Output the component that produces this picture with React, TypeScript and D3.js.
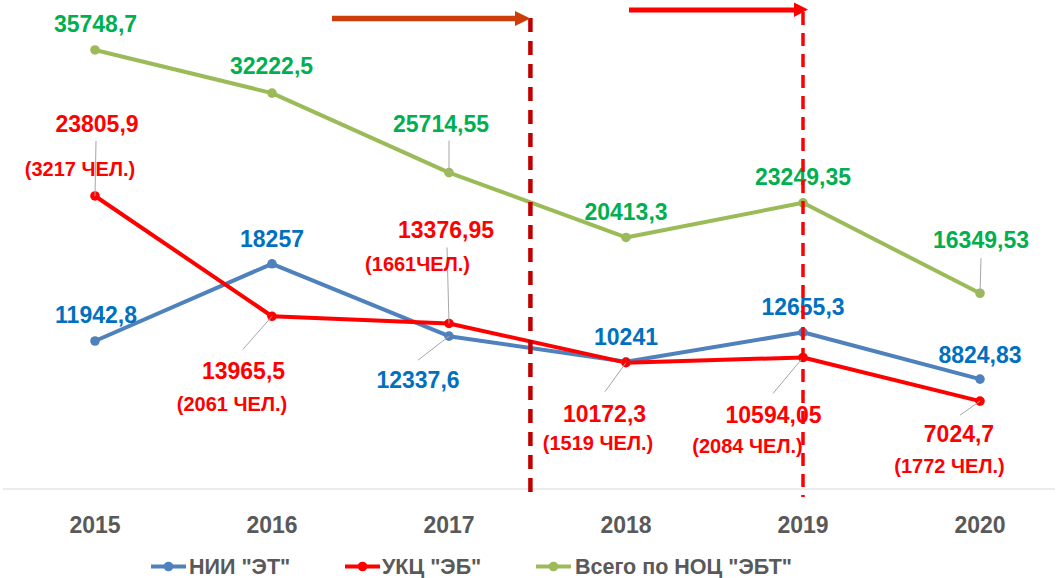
import React from 'react';
import * as d3 from 'd3';

const years = ['2015', '2016', '2017', '2018', '2019', '2020'];
const niiValues = [11942.8, 18257, 12337.6, 10241, 12655.3, 8824.83];
const ukcValues = [23805.9, 13965.5, 13376.95, 10172.3, 10594.05, 7024.7];
const totalValues = [35748.7, 32222.5, 25714.55, 20413.3, 23249.35, 15849.53];
const niiLabels = ['11942,8', '18257', '12337,6', '10241', '12655,3', '8824,83'];
const ukcLabels = ['23805,9', '13965,5', '13376,95', '10172,3', '10594,05', '7024,7'];
const ukcPeople = ['(3217 ЧЕЛ.)', '(2061 ЧЕЛ.)', '(1661ЧЕЛ.)', '(1519 ЧЕЛ.)', '(2084 ЧЕЛ.)', '(1772 ЧЕЛ.)'];
const totalLabels = ['35748,7', '32222,5', '25714,55', '20413,3', '23249,35', '16349,53'];
const seriesNames = ['НИИ "ЭТ"', 'УКЦ "ЭБ"', 'Всего по НОЦ "ЭБТ"'];
// period markers, as positions on the category axis (index units)
const periodMarks = [2.46, 4.0];

const W = 1061;
const H = 578;
const FONT = '"Liberation Sans", Arial, sans-serif';

// label layout (offsets of label centre from the point)
const totalOff = [[0.5, -26.5], [-0.5, -27.5], [-8, -49], [0, -26], [0, -26.3], [1, -53]];
const totalLeader = [null, null, [0, -32], null, null, [1, -35]];
const niiOff = [[1, -26], [0, -25.3], [-31, 44], [0, -25.3], [0, -25.8], [0, -24]];
const niiLeader = [null, null, [-31, 24], null, null, null];
const ukcOff = [[2, -72.5], [-28.5, 54], [-3, -93.5], [-21.5, 51], [-29.5, 57], [-21, 33]];
const ukcPeopleOff = [[-15, -27], [-40, 88], [-31.5, -59.5], [-28, 80.4], [-55.5, 88.5], [-30.5, 65]];
const ukcLeader = [[1, -55], [-29, 33], [-2, -76], [-21, 29], [-30, 36], [-20, 14]];

const COL = {
  nii: '#4F81BD', niiText: '#0070C0',
  ukc: '#FF0000', ukcText: '#FF0000',
  tot: '#9BBB59', totText: '#00B050',
  axis: '#D9D9D9', text: '#595959', leader: '#A6A6A6',
};

export default function App() {
  const x = d3.scalePoint<string>().domain(years).range([95, 980]);
  const step = x.step();
  const y = d3.scaleLinear().domain([0, 40000]).range([487, -2]);
  const line = d3.line<number>().x((_, i) => x(years[i]) as number).y((v) => y(v));

  const series = [
    { vals: niiValues, color: COL.nii },
    { vals: ukcValues, color: COL.ukc },
    { vals: totalValues, color: COL.tot },
  ];

  const px = (i: number) => x(years[i]) as number;
  const mx = (p: number) => (x(years[0]) as number) + p * step;

  const leaders: any[] = [];
  const addLeaders = (vals: number[], arr: any[], key: string) => {
    arr.forEach((o, i) => {
      if (!o) return;
      const X = px(i), Y = y(vals[i]);
      leaders.push(<line key={key + i} x1={X + o[0]} y1={Y + o[1]} x2={X} y2={Y} stroke={COL.leader} strokeWidth={1} />);
    });
  };
  addLeaders(totalValues, totalLeader, 't');
  addLeaders(niiValues, niiLeader, 'n');
  addLeaders(ukcValues, ukcLeader, 'u');

  const valueText = (vals: number[], labels: string[], off: number[][], color: string, key: string, size = 23) =>
    labels.map((t, i) => (
      <text key={key + i} x={px(i) + off[i][0]} y={y(vals[i]) + off[i][1] + size * 0.358}
        textAnchor="middle" fontSize={size} fontWeight="bold" fill={color} fontFamily={FONT}>{t}</text>
    ));

  const legendItems = [
    { name: seriesNames[0], color: COL.nii, x0: 151, tx: 189 },
    { name: seriesNames[1], color: COL.ukc, x0: 345, tx: 382 },
    { name: seriesNames[2], color: COL.tot, x0: 536, tx: 575 },
  ];

  return (
    <svg width={W} height={H} style={{ position: 'absolute', left: 0, top: 0, background: '#fff' }}>
      <rect width={W} height={H} fill="#fff" />
      <line x1={3} x2={1055} y1={489} y2={489} stroke={COL.axis} strokeWidth={1.2} />
      {years.map((yr, i) => (
        <text key={yr} x={px(i)} y={533} textAnchor="middle" fontSize={23} fontWeight="bold" fill={COL.text} fontFamily={FONT}>{yr}</text>
      ))}
      {series.map((s, k) => (
        <path key={k} d={line(s.vals) as string} fill="none" stroke={s.color} strokeWidth={4} strokeLinejoin="round" />
      ))}
      {series.map((s, k) => s.vals.map((v, i) => (
        <circle key={k + '-' + i} cx={px(i)} cy={y(v)} r={4.8} fill={s.color} />
      )))}
      {leaders}
      {valueText(totalValues, totalLabels, totalOff, COL.totText, 'tl')}
      {valueText(niiValues, niiLabels, niiOff, COL.niiText, 'nl')}
      {valueText(ukcValues, ukcLabels, ukcOff, COL.ukcText, 'ul')}
      {valueText(ukcValues, ukcPeople, ukcPeopleOff, COL.ukcText, 'up', 20)}

      {/* period markers */}
      <line x1={mx(periodMarks[0])} x2={mx(periodMarks[0])} y1={18} y2={497} stroke="#C00000" strokeWidth={4.5} strokeDasharray="14 9" />
      <line x1={mx(periodMarks[1])} x2={mx(periodMarks[1])} y1={12} y2={497} stroke="#FF0000" strokeWidth={3.5} strokeDasharray="13 8" />
      <line x1={332} x2={516} y1={18.5} y2={18.5} stroke="#CC3D0A" strokeWidth={5.5} />
      <path d={`M515,11 L${mx(periodMarks[0])},18.5 L515,26 Z`} fill="#CC3D0A" />
      <line x1={629} x2={795} y1={10} y2={10} stroke="#FF0000" strokeWidth={5} />
      <path d={`M794,2.5 L808,9.5 L794,17 Z`} fill="#FF0000" />

      {legendItems.map((it) => (
        <g key={it.name}>
          <line x1={it.x0} x2={it.x0 + 35} y1={566.5} y2={566.5} stroke={it.color} strokeWidth={4} />
          <circle cx={it.x0 + 17.5} cy={566.5} r={4.8} fill={it.color} />
          <text x={it.tx} y={573.5} fontSize={21.5} fontWeight="bold" fill={COL.text} fontFamily={FONT}>{it.name}</text>
        </g>
      ))}
    </svg>
  );
}
